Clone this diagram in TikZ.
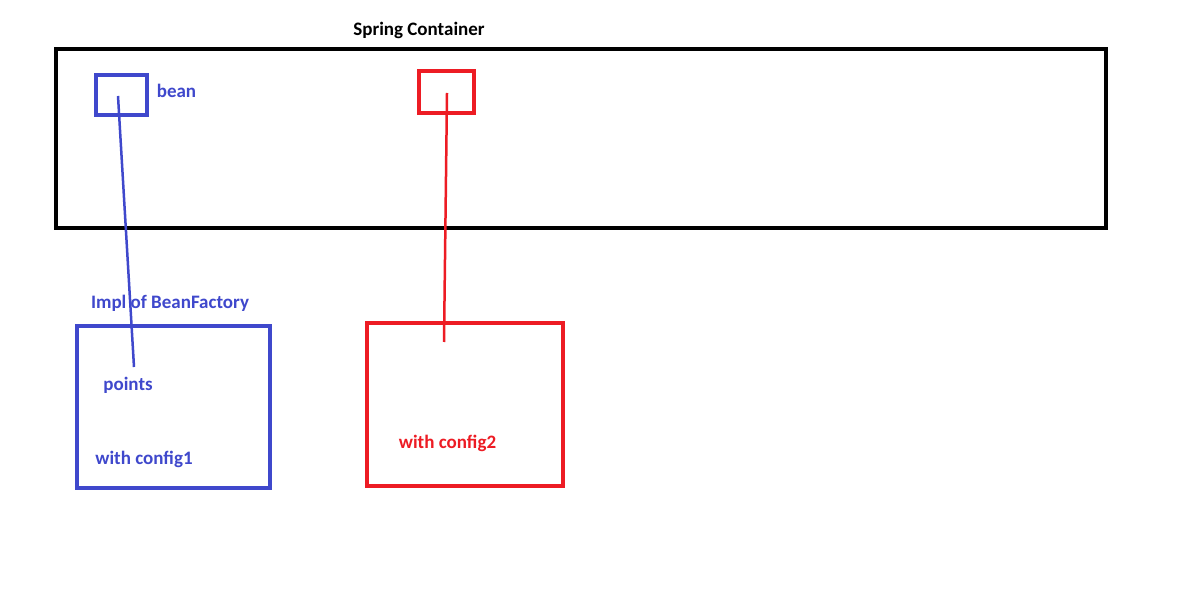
\documentclass[tikz,border=0pt]{standalone}
\usepackage{fontspec}
\setmainfont{Carlito}
\definecolor{pblue}{HTML}{3F48CC}
\definecolor{pred}{HTML}{ED1C24}
\begin{document}
\begin{tikzpicture}[x=1pt,y=-1pt,
  box/.style={draw,line width=4pt,inner sep=0pt,outer sep=0pt,anchor=north west},
  lbl/.style={font=\bfseries\fontsize{19}{21}\selectfont,inner sep=0pt},
  link/.style={line width=2.5pt}]
\useasboundingbox[fill=white] (0,0) rectangle (1196,593);
% container
\node[box,draw=black,minimum width=1050pt,minimum height=179pt] (cont) at (56,49) {};
\node[lbl] (title) at (419,30) {Spring Container};
% small boxes
\node[box,draw=pblue,minimum width=51pt,minimum height=40pt] (bean1) at (96,75) {};
\node[box,draw=pred,minimum width=55pt,minimum height=42pt] (bean2) at (419,71) {};
\node[lbl,text=pblue] (beanlbl) at (176.5,91) {bean};
% big boxes
\node[box,draw=pblue,minimum width=193pt,minimum height=162pt] (fac1) at (77,326) {};
\node[box,draw=pred,minimum width=196pt,minimum height=163pt] (fac2) at (367,323) {};
\node[lbl,text=pblue] (impl) at (170,303) {Impl of BeanFactory};
\node[lbl,text=pblue] (points) at (128,385) {points};
\node[lbl,text=pblue] (cfg1) at (144,459) {with config1};
\node[lbl,text=pred] (cfg2) at (447.5,443) {with config2};
% connectors
\coordinate (a1) at (118,96);
\coordinate (b1) at (134,367);
\coordinate (a2) at (447,93);
\coordinate (b2) at (444,342);
\draw[link,pblue] (a1) -- (b1);
\draw[link,pred] (a2) -- (b2);
\end{tikzpicture}
\end{document}
